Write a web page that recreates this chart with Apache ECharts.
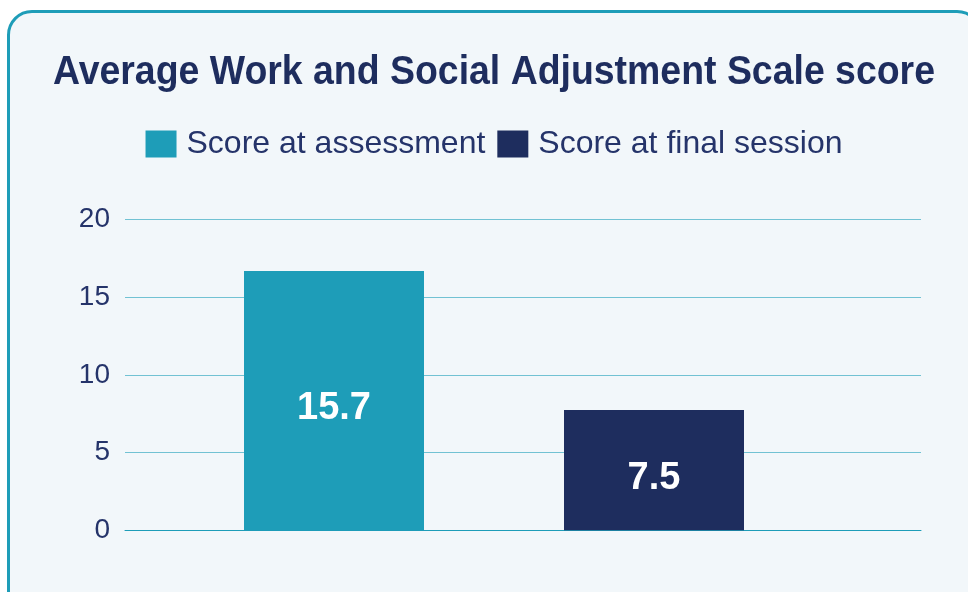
<!DOCTYPE html>
<html>
<head>
<meta charset="utf-8">
<script src="https://cdn.jsdelivr.net/npm/echarts@6/dist/echarts.min.js"></script>
<style>
html,body{margin:0;padding:0;background:#ffffff;overflow:hidden;width:968px;height:592px;}
#frame{position:absolute;left:6.5px;top:9.5px;width:975px;height:610px;border:3px solid #1e9db8;border-radius:25px;background:#f2f7fa;box-sizing:border-box;}
#chart{position:absolute;left:0;top:0;width:988px;height:592px;}
</style>
</head>
<body>
<div id="frame"></div>
<div id="chart"></div>
<script>
const titleText = 'Average Work and Social Adjustment Scale score';
const categories = ['Score at assessment', 'Score at final session'];
const barValues = [16.7, 7.75];
const printedLabels = ['15.7', '7.5'];
const yTicks = [0, 5, 10, 15, 20];
const colors = ['#1e9db8', '#1e2d5e'];

const navy = '#1e2d5e';
const titleFont = 'bold 41px "Liberation Sans", Arial, sans-serif';
const titleTargetWidth = 882;
const ctx = document.createElement('canvas').getContext('2d');
ctx.font = titleFont;
const titleScale = titleTargetWidth / ctx.measureText(titleText).width;

const chart = echarts.init(document.getElementById('chart'), null, {renderer: 'canvas'});
const series = categories.map((name, i) => ({
  name: name,
  type: 'bar',
  xAxisIndex: 1,
  yAxisIndex: 1,
  barWidth: 180,
  barGap: '-100%',
  itemStyle: {color: colors[i]},
  data: categories.map((c, j) => j === i ? barValues[i] : '-'),
  label: {
    show: true,
    position: 'inside',
    offset: [0, 8],
    color: '#ffffff',
    fontFamily: '"Liberation Sans", Arial, sans-serif',
    fontWeight: 'bold',
    fontSize: 38,
    formatter: () => printedLabels[i]
  }
}));

chart.setOption({
  animation: false,
  backgroundColor: 'transparent',
  graphic: [{
    type: 'text',
    x: 494,
    y: 73,
    scaleX: titleScale,
    style: {
      text: titleText,
      font: titleFont,
      fill: navy,
      align: 'center',
      verticalAlign: 'middle'
    }
  }],
  legend: {
    top: 123,
    left: 'center',
    icon: 'rect',
    itemWidth: 31,
    itemHeight: 27,
    itemGap: 12,
    data: categories,
    textStyle: {
      color: '#25346a',
      fontFamily: '"Liberation Sans", Arial, sans-serif',
      fontWeight: 'normal',
      fontSize: 32,
      padding: [0, 0, 0, 5]
    }
  },
  grid: [
    {left: 125, right: 67, top: 219.7, bottom: 61.7, containLabel: false},
    {left: 174, right: 174, top: 219.7, bottom: 61.7, containLabel: false}
  ],
  xAxis: [
    {type: 'category', gridIndex: 0, data: categories, axisLine: {show: true, lineStyle: {color: '#1e9db8', width: 1}}, axisTick: {show: false}, axisLabel: {show: false}},
    {type: 'category', gridIndex: 1, data: categories, axisLine: {show: false}, axisTick: {show: false}, axisLabel: {show: false}}
  ],
  yAxis: [
    {
      type: 'value', gridIndex: 0, min: yTicks[0], max: yTicks[yTicks.length - 1], interval: yTicks[1] - yTicks[0],
      axisLine: {show: false}, axisTick: {show: false},
      splitLine: {show: true, lineStyle: {color: '#72c2d3', width: 1}},
      axisLabel: {color: '#25346a', fontFamily: '"Liberation Sans", Arial, sans-serif', fontWeight: 'normal', fontSize: 28, margin: 15}
    },
    {
      type: 'value', gridIndex: 1, min: yTicks[0], max: yTicks[yTicks.length - 1], interval: yTicks[1] - yTicks[0],
      axisLine: {show: false}, axisTick: {show: false}, splitLine: {show: false}, axisLabel: {show: false}
    }
  ],
  series: series
});
</script>
</body>
</html>
